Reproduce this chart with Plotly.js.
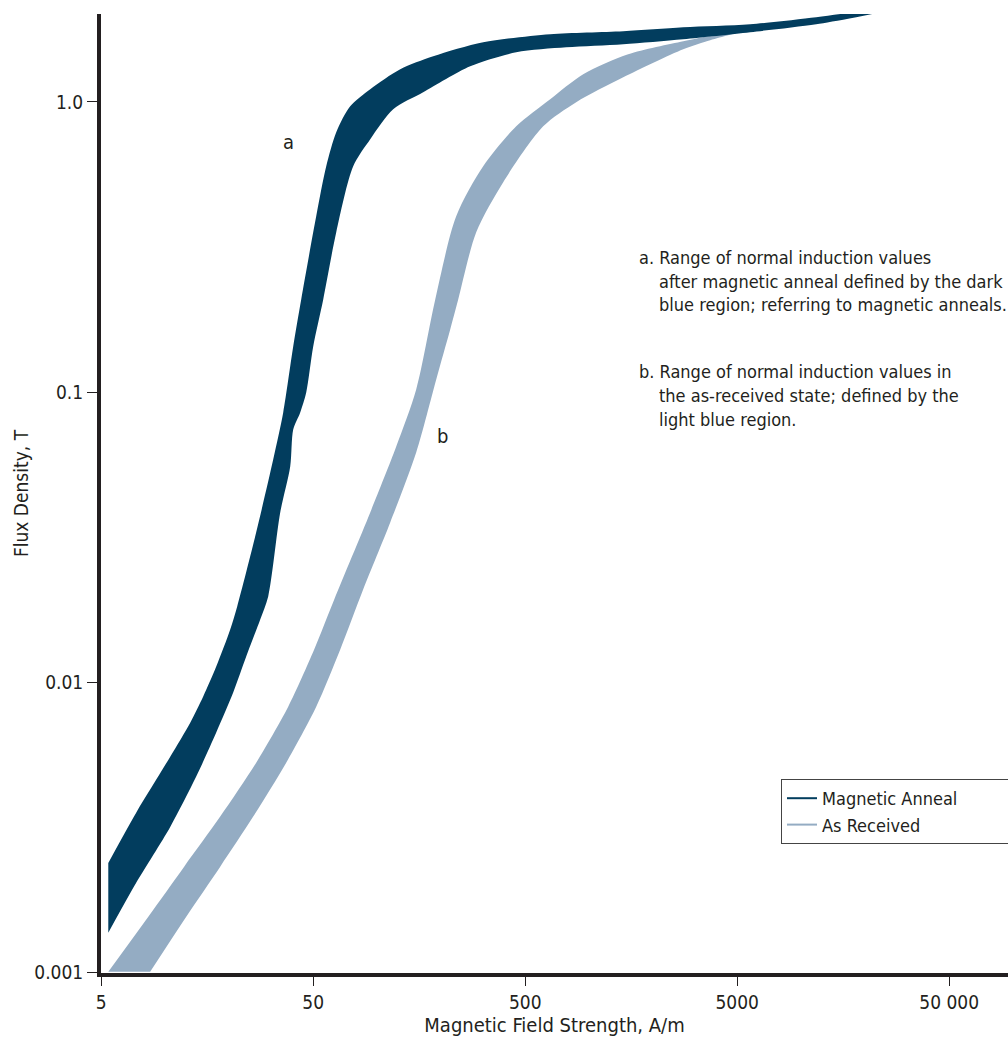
<!DOCTYPE html>
<html>
<head>
<meta charset="utf-8">
<script src="https://cdn.plot.ly/plotly-3.0.1.min.js"></script>
<style>html,body{margin:0;padding:0;background:#fff;}#chart{width:1008px;height:1037px;}</style>
</head>
<body>
<div id="chart"></div>
<script>
// Magnetic anneal band (dark): upper/left edge and lower/right edge
const annealUpperH = [5.40, 7.31, 10.58, 13.15, 15.14, 17.44, 20.30, 21.90, 26.92, 32.38, 36.10, 40.24, 43.89, 51.66, 57.6, 64.21, 74.73, 92.9, 128.7, 184.1, 316.8, 656, 1450, 2782, 5758, 11790, 18210, 25220];
const annealUpperB = [0.00239, 0.00356, 0.00555, 0.00727, 0.00894, 0.01134, 0.01522, 0.01827, 0.0329, 0.0586, 0.0852, 0.1438, 0.2088, 0.4036, 0.600, 0.786, 0.966, 1.106, 1.296, 1.437, 1.606, 1.712, 1.753, 1.809, 1.853, 1.959, 2.038, 2.054];
const annealLowerH = [5.40, 7.31, 10.58, 14.03, 17.44, 20.97, 24.15, 28.12, 30.67, 34.94, 38.95, 40.24, 43.42, 46.34, 50, 55.75, 64.21, 77.2, 92.9, 119.2, 165.1, 275.2, 453.5, 780.6, 1450, 2782, 5758, 11790, 18210];
const annealLowerB = [0.001373, 0.00204, 0.00318, 0.00474, 0.00672, 0.00923, 0.01228, 0.01647, 0.01977, 0.0385, 0.0555, 0.0744, 0.0852, 0.0998, 0.1438, 0.2088, 0.3554, 0.600, 0.744, 0.944, 1.080, 1.327, 1.483, 1.543, 1.581, 1.645, 1.739, 1.853, 1.959];

// As-received band (light): upper/left edge and lower/right edge
const receivedUpperH = [5.40, 8.34, 12.31, 18.21, 26.92, 38.11, 50.54, 62.83, 92.9, 123.2, 153.0, 188.2, 236.3, 316.8, 453.5, 656, 938.8, 1530, 2782, 3853, 5337];
const receivedUpperB = [0.001008, 0.00156, 0.00232, 0.00345, 0.00529, 0.00825, 0.01299, 0.01931, 0.0385, 0.0650, 0.1022, 0.2088, 0.4036, 0.600, 0.824, 1.022, 1.246, 1.460, 1.619, 1.698, 1.781];
const receivedLowerH = [8.51, 12.59, 18.21, 26.06, 37.29, 51.66, 67.07, 86.0, 115.4, 153.0, 190.2, 221.4, 241.5, 293.7, 393.8, 607.9, 870.1, 1450, 2782, 3729, 4535, 5337];
const receivedLowerB = [0.001008, 0.00156, 0.00232, 0.00345, 0.00529, 0.00825, 0.01299, 0.02090, 0.0356, 0.0620, 0.1107, 0.1646, 0.2088, 0.3554, 0.529, 0.824, 0.998, 1.216, 1.519, 1.632, 1.698, 1.753];

const xTickVals = [5, 50, 500, 5000, 50000];
const xTickText = ["5", "50", "500", "5000", "50 000"];
const yTickVals = [0.001, 0.01, 0.1, 1];
const yTickText = ["0.001", "0.01", "0.1", "1.0"];

const seriesNames = ["Magnetic Anneal", "As Received"];
const bandLabels = ["a", "b"];
const noteA = ["a. Range of normal induction values", "after magnetic anneal defined by the dark", "blue region; referring to magnetic anneals."];
const noteB = ["b. Range of normal induction values in", "the as-received state; defined by the", "light blue region."];

const DARK = "#023d5e", LIGHT = "#94acc3", INK = "#231f20";
const FONT = "'Liberation Sans Narrow', 'DejaVu Sans Condensed', 'Arial Narrow', sans-serif";

function band(uH, uB, lH, lB, color) {
  return [
    { type: "scatter", mode: "lines", x: lH, y: lB, line: { width: 0, color: color, shape: "spline", smoothing: 0.8 }, showlegend: false, hoverinfo: "skip" },
    { type: "scatter", mode: "lines", x: uH, y: uB, fill: "tonexty", fillcolor: color, line: { width: 0, color: color, shape: "spline", smoothing: 0.8 }, showlegend: false, hoverinfo: "skip" }
  ];
}

const traces = []
  .concat(band(receivedUpperH, receivedUpperB, receivedLowerH, receivedLowerB, LIGHT))
  .concat(band(annealUpperH, annealUpperB, annealLowerH, annealLowerB, DARK))
  .concat([
    { type: "scatter", mode: "lines", x: [null], y: [null], name: seriesNames[0], line: { color: DARK, width: 2 } },
    { type: "scatter", mode: "lines", x: [null], y: [null], name: seriesNames[1], line: { color: LIGHT, width: 2 } }
  ]);

const L = 101, T = 14, W = 907, H = 959;
const px = v => (v - L) / W;
const py = v => (T + H - v) / H;

const annotations = [];
function note(text, x, y, size) {
  annotations.push({ xref: "paper", yref: "paper", x: px(x), y: py(y), xanchor: "left", yanchor: "middle", text: text, showarrow: false, font: { family: FONT, size: size || 18, color: INK } });
}
note(noteA[0], 637, 257); note(noteA[1], 657, 281); note(noteA[2], 657, 305);
note(noteB[0], 637, 371); note(noteB[1], 657, 396); note(noteB[2], 657, 419);
annotations.push({ xref: "paper", yref: "paper", x: px(288), y: py(142), xanchor: "center", yanchor: "middle", text: bandLabels[0], showarrow: false, font: { family: FONT, size: 20, color: INK } });
annotations.push({ xref: "paper", yref: "paper", x: px(442), y: py(436), xanchor: "center", yanchor: "middle", text: bandLabels[1], showarrow: false, font: { family: FONT, size: 20, color: INK } });

const layout = {
  width: 1008, height: 1037,
  margin: { l: L, r: 0, t: T, b: 64, autoexpand: false },
  paper_bgcolor: "#fff", plot_bgcolor: "#fff",
  font: { family: FONT, size: 19, color: INK },
  showlegend: true,
  legend: { orientation: "h", traceorder: "normal", entrywidthmode: "pixels", entrywidth: 520, x: px(781), y: py(779), xanchor: "left", yanchor: "top", bgcolor: "#fff", bordercolor: "#444", borderwidth: 1, font: { family: FONT, size: 18, color: INK }, tracegroupgap: 0 },
  xaxis: {
    type: "log", range: [0.698, 0.698 + W / 212],
    tickvals: xTickVals, ticktext: xTickText,
    showgrid: false, zeroline: false,
    showline: true, linewidth: 4, linecolor: INK,
    ticks: "outside", ticklen: 9, tickwidth: 1, tickcolor: INK,
    tickfont: { family: FONT, size: 19, color: INK },
    title: { text: "Magnetic Field Strength, A/m", font: { family: FONT, size: 20, color: INK }, standoff: 3 }
  },
  yaxis: {
    type: "log", range: [-3.001, 0.303],
    tickvals: yTickVals, ticktext: yTickText,
    showgrid: false, zeroline: false,
    showline: true, linewidth: 4, linecolor: INK,
    ticks: "outside", ticklen: 10, tickwidth: 1, tickcolor: INK,
    tickfont: { family: FONT, size: 19, color: INK },
    title: { text: "Flux Density, T", font: { family: FONT, size: 19, color: INK }, standoff: 2 }
  },
  annotations: annotations
};

Plotly.newPlot("chart", traces, layout, { displayModeBar: false, staticPlot: true });
</script>
</body>
</html>
